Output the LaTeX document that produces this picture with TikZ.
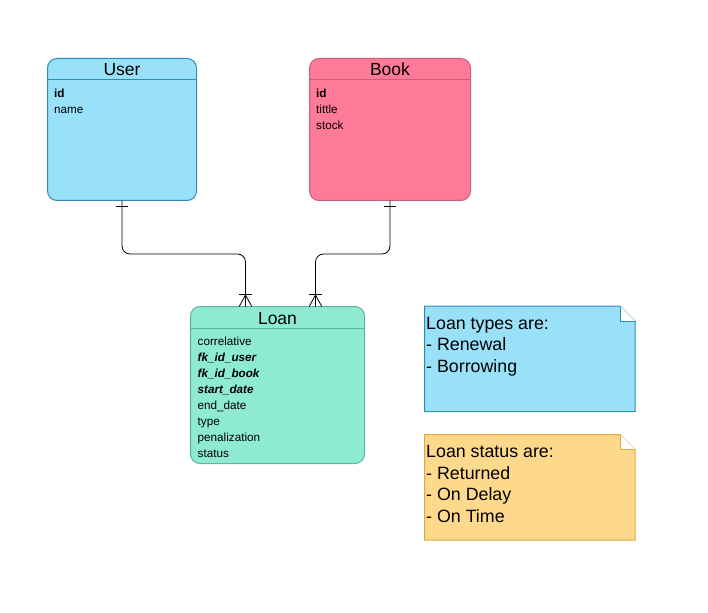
\documentclass[tikz,border=0pt]{standalone}
\usepackage{fontspec}
\setmainfont{Liberation Sans}
\usetikzlibrary{positioning,calc}

\definecolor{userfill}{HTML}{99E1F8}
\definecolor{userline}{HTML}{2E8DB8}
\definecolor{bookfill}{HTML}{FF7A98}
\definecolor{bookline}{HTML}{C8607C}
\definecolor{loanfill}{HTML}{8FEAD2}
\definecolor{loanline}{HTML}{5DB596}
\definecolor{statusfill}{HTML}{FFD98B}
\definecolor{statusline}{HTML}{DDA93B}

\tikzset{
  entity/.style={rounded corners=9.5pt, line width=1pt, inner sep=0pt, outer sep=0pt},
  notebox/.style={inner sep=0pt, outer sep=0pt},
  title/.style={font=\fontsize{17.5}{20}\selectfont, inner sep=0pt, anchor=base},
  field/.style={font=\fontsize{11.7}{14}\selectfont, inner sep=0pt, anchor=base west},
  notetext/.style={font=\fontsize{17.8}{21}\selectfont, inner sep=0pt, anchor=base west},
  rel/.style={line width=0.8pt, black},
}

\begin{document}
\begin{tikzpicture}[x=1pt, y=-1pt]
\useasboundingbox (0,0) rectangle (708,612);
%%%%% Entities %%%%%
\node[entity, draw=userline, fill=userfill, minimum width=149pt, minimum height=142pt] (user) at (122,129.5) {};
\node[entity, draw=bookline, fill=bookfill, minimum width=161pt, minimum height=142pt] (book) at (390,129.5) {};
\node[entity, draw=loanline, fill=loanfill, minimum width=174pt, minimum height=157pt] (loan) at (277.5,385) {};
\foreach \e/\c/\t in {user/userline/User, book/bookline/Book, loan/loanline/Loan}{
\draw[\c, line width=1pt] ([yshift=-21.5pt]\e.north west) -- ([yshift=-21.5pt]\e.north east);
\node[title] (\e title) at ([yshift=-17.5pt]\e.north) {\t};
}
%%%%% Fields %%%%%
\foreach \f [count=\i] in {\textbf{id}, name}
\node[field] (userf\i) at ([xshift=6.5pt, yshift={-22.3pt-16.3pt*\i}]user.north west) {\f};
\foreach \f [count=\i] in {\textbf{id}, tittle, stock}
\node[field] (bookf\i) at ([xshift=6.5pt, yshift={-22.3pt-16.3pt*\i}]book.north west) {\f};
\foreach \f [count=\i] in {correlative, \textbf{\textit{fk\_id\_user}}, \textbf{\textit{fk\_id\_book}}, \textbf{\textit{start\_date}}, end\_date, type, penalization, status}
\node[field] (loanf\i) at ([xshift=7pt, yshift={-22.5pt-16pt*\i}]loan.north west) {\f};
%%%%% Relations %%%%%
\coordinate (uin) at ([xshift=-32pt]loan.north);
\coordinate (bin) at ([xshift=38pt]loan.north);
\draw[rel, rounded corners=8pt] (user.south) -- ++(0,53.5) -| (uin);
\draw[rel, rounded corners=8pt] (book.south) -- ++(0,53.5) -| (bin);
\foreach \c in {user,book}
\draw[rel] ([xshift=-6.3pt,yshift=-6.2pt]\c.south) -- ([xshift=6.3pt,yshift=-6.2pt]\c.south);
\foreach \c in {uin,bin}{
\draw[rel] ([xshift=-6.3pt,yshift=12.5pt]\c) -- ([xshift=6.3pt,yshift=12.5pt]\c);
\draw[rel] ([xshift=-6.3pt]\c) -- ([yshift=11.5pt]\c) -- ([xshift=6.3pt]\c);
}
%%%%% Notes %%%%%
\node[notebox, minimum width=210.5pt, minimum height=105.5pt] (types) at (529.75,358.75) {};
\node[notebox, minimum width=210.5pt, minimum height=105.5pt] (status) at (529.75,487.25) {};
\foreach \n/\c/\f in {types/userline/userfill, status/statusline/statusfill}{
\draw[\c, fill=\f, line width=1pt] (\n.north west) -- ([xshift=-15pt]\n.north east) -- ([yshift=-15pt]\n.north east) -- (\n.south east) -- (\n.south west) -- cycle;
\draw[\c, fill=white, line width=1pt] ([xshift=-15pt]\n.north east) -- ([xshift=-15pt,yshift=-15pt]\n.north east) -- ([yshift=-15pt]\n.north east);
}
\foreach \t [count=\i] in {Loan types are:, - Renewal, - Borrowing}
\node[notetext] (typesl\i) at ([xshift=1.5pt, yshift={-1.5pt-21.5pt*\i}]types.north west) {\t};
\foreach \t [count=\i] in {Loan status are:, - Returned, - On Delay, - On Time}
\node[notetext] (statusl\i) at ([xshift=1.5pt, yshift={-1.5pt-21.5pt*\i}]status.north west) {\t};
\end{tikzpicture}
\end{document}
